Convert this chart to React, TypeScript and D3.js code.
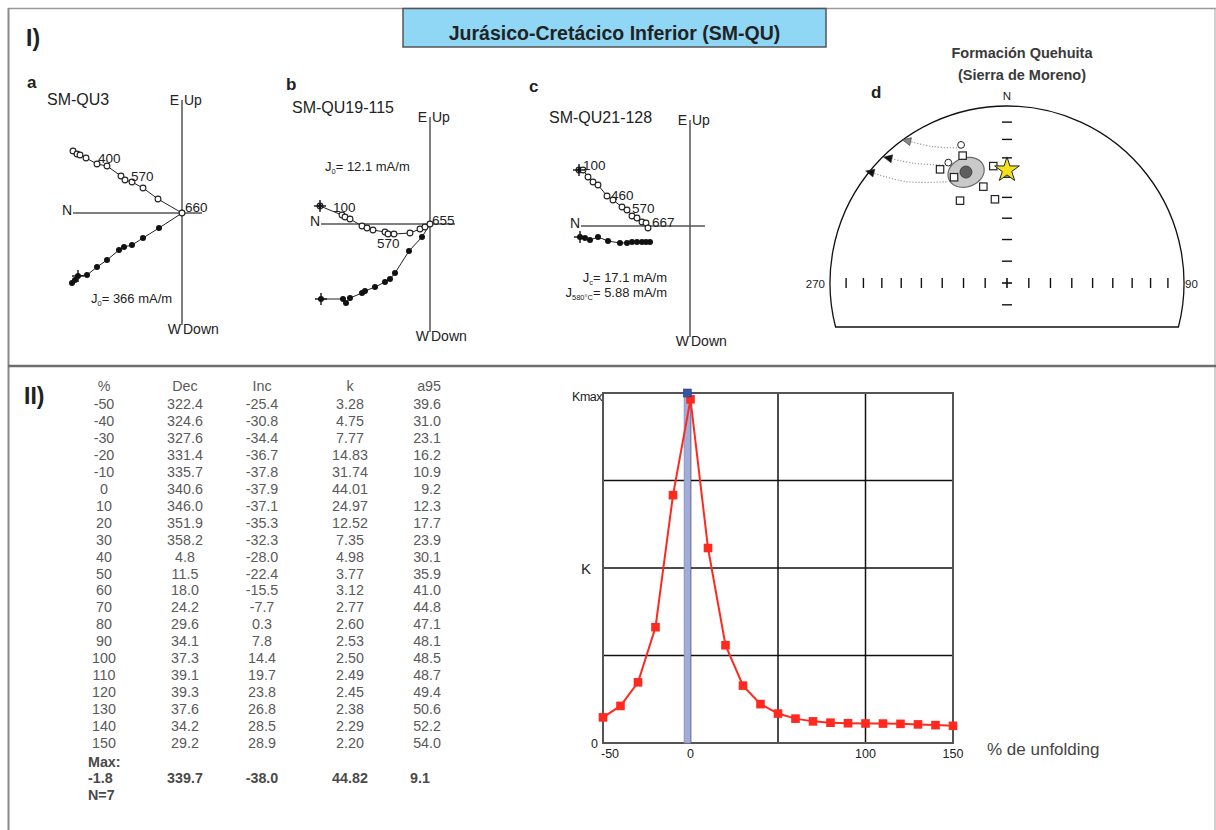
import React from 'react';
import * as d3 from 'd3';

const FONT = '"Liberation Sans", Arial, Helvetica, sans-serif';

// ---------- Fold test table (part II) ----------
const unfoldPct = [-50, -40, -30, -20, -10, 0, 10, 20, 30, 40, 50, 60, 70, 80, 90, 100, 110, 120, 130, 140, 150];
const decValues = [322.4, 324.6, 327.6, 331.4, 335.7, 340.6, 346.0, 351.9, 358.2, 4.8, 11.5, 18.0, 24.2, 29.6, 34.1, 37.3, 39.1, 39.3, 37.6, 34.2, 29.2];
const incValues = [-25.4, -30.8, -34.4, -36.7, -37.8, -37.9, -37.1, -35.3, -32.3, -28.0, -22.4, -15.5, -7.7, 0.3, 7.8, 14.4, 19.7, 23.8, 26.8, 28.5, 28.9];
const kValues = [3.28, 4.75, 7.77, 14.83, 31.74, 44.01, 24.97, 12.52, 7.35, 4.98, 3.77, 3.12, 2.77, 2.60, 2.53, 2.50, 2.49, 2.45, 2.38, 2.29, 2.20];
const a95Values = [39.6, 31.0, 23.1, 16.2, 10.9, 9.2, 12.3, 17.7, 23.9, 30.1, 35.9, 41.0, 44.8, 47.1, 48.1, 48.5, 48.7, 49.4, 50.6, 52.2, 54.0];
const maxPct = -1.8;
const maxDec = 339.7;
const maxInc = -38.0;
const maxK = 44.82;
const maxA95 = 9.1;
const nSites = 7;
const tableHeaders = ['%', 'Dec', 'Inc', 'k', 'a95'];
const xGridValues = [-50, 0, 50, 100, 150];
const xTickLabels = [-50, 0, 100, 150];

// ---------- Zijderveld diagrams (units relative to NRM) [N, E/Up] ----------
const zijA_vert: [number, number][] = [[1.09, 0.62], [1.05, 0.59], [1.02, 0.58], [0.96, 0.55], [0.85, 0.49], [0.75, 0.47], [0.61, 0.37], [0.57, 0.33], [0.50, 0.31], [0.39, 0.25], [0.24, 0.14], [0, 0]];
const zijA_horiz: [number, number][] = [[1.10, -0.70], [1.07, -0.67], [1.04, -0.63], [0.95, -0.62], [0.85, -0.54], [0.75, -0.47], [0.63, -0.37], [0.58, -0.34], [0.50, -0.32], [0.39, -0.25], [0.23, -0.15], [0, 0]];
const zijB_vert: [number, number][] = [[1.10, 0.18], [0.88, 0.09], [0.85, 0.07], [0.80, 0.05], [0.68, -0.02], [0.63, -0.04], [0.57, -0.06], [0.45, -0.08], [0.42, -0.10], [0.36, -0.10], [0.20, -0.09], [0.10, -0.05], [0.05, -0.03], [0, 0]];
const zijB_horiz: [number, number][] = [[1.09, -0.75], [0.87, -0.75], [0.84, -0.79], [0.80, -0.74], [0.68, -0.69], [0.65, -0.67], [0.55, -0.63], [0.45, -0.58], [0.40, -0.55], [0.35, -0.49], [0.21, -0.27], [0.08, -0.13], [0, 0]];
const zijC_vert: [number, number][] = [[1.11, 0.56], [1.07, 0.56], [1.02, 0.49], [0.97, 0.44], [0.92, 0.41], [0.83, 0.30], [0.77, 0.26], [0.68, 0.19], [0.63, 0.16], [0.58, 0.10], [0.53, 0.08], [0.48, 0.04], [0.44, 0.03], [0.42, -0.02]];
const zijC_horiz: [number, number][] = [[1.10, -0.11], [1.05, -0.12], [1.00, -0.14], [0.92, -0.11], [0.82, -0.15], [0.70, -0.17], [0.63, -0.17], [0.58, -0.16], [0.53, -0.16], [0.48, -0.16], [0.44, -0.16], [0.40, -0.16]];

// ---------- Stereonet (dec, inc) ----------
const siteDirs: [number, number][] = [[340.8, -24.8], [329.5, -26.4], [333.4, -33.6], [353.3, -33.9], [346.2, -43.3], [330.3, -45.5], [351.8, -50.5]];
const specimenDirs: [number, number][] = [[341.6, -18.9], [334.0, -25.3]];
const meanDir: [number, number] = [339.7, -33.6];
const meanConeAngle = 7.5;
const starDir: [number, number] = [0, -36.3];
const tiltPaths: [number, number][][] = [
  [[340.8, -20.3], [331.6, -13.5], [324.8, -1.9]],
  [[331.5, -25.2], [322.0, -15.2], [316.4, -2.8]],
  [[329.2, -33.8], [315.3, -20.6], [309.0, -0.5]],
];
const stereoTickIncs = [10, 20, 30, 40, 50, 60, 70, 80];

// ---------------------------------------------------------------
type Pt = [number, number];
const rad = (a: number) => (a * Math.PI) / 180;
const deg = (a: number) => (a * 180) / Math.PI;

interface ZijProps {
  ox: number; oy: number; scale: number;
  vert: Pt[]; horiz: Pt[];
  axN: [number, number]; axV: [number, number];
  crossV: number; crossH: number;
  labels: { s: 'v' | 'h'; i: number; t: string; dx: number; dy: number }[];
}

function Cross({ x, y }: { x: number; y: number }) {
  return (
    <g stroke="#111" strokeWidth={1.4}>
      <line x1={x - 6} y1={y} x2={x + 6} y2={y} />
      <line x1={x} y1={y - 6} x2={x} y2={y + 6} />
      <circle cx={x} cy={y} r={2} fill="#111" stroke="none" />
    </g>
  );
}

function ZijPanel(p: ZijProps) {
  const x = d3.scaleLinear().domain([0, 1]).range([p.ox, p.ox - p.scale]);
  const y = d3.scaleLinear().domain([0, 1]).range([p.oy, p.oy - p.scale]);
  const line = d3.line<Pt>().x((d) => x(d[0])).y((d) => y(d[1]));
  const xl = x(p.axN[0]);
  const xr = x(p.axN[1]);
  const yt = y(p.axV[0]);
  const yb = y(p.axV[1]);
  const ax = x(0);
  const ay = y(0);
  return (
    <g>
      <line x1={xl} y1={ay} x2={xr} y2={ay} stroke="#555" strokeWidth={1.5} />
      <line x1={ax} y1={yt} x2={ax} y2={yb} stroke="#555" strokeWidth={1.5} />
      <text x={xl - 1} y={ay + 2} textAnchor="end" fontSize={14} fill="#222">N</text>
      <text x={ax - 3} y={yt + 5} textAnchor="end" fontSize={14} fill="#222">E</text>
      <text x={ax + 2} y={yt + 5} fontSize={14} fill="#222">Up</text>
      <text x={ax - 1} y={yb + 9} textAnchor="end" fontSize={14} fill="#222">W</text>
      <text x={ax + 1} y={yb + 9} fontSize={14} fill="#222">Down</text>
      <path d={line(p.horiz) || ''} fill="none" stroke="#222" strokeWidth={1} />
      <path d={line(p.vert) || ''} fill="none" stroke="#222" strokeWidth={1} />
      {p.horiz.map((d, i) => (
        <circle key={'h' + i} cx={x(d[0])} cy={y(d[1])} r={3} fill="#111" />
      ))}
      {p.vert.map((d, i) => (
        <circle key={'v' + i} cx={x(d[0])} cy={y(d[1])} r={2.9} fill="#fff" stroke="#222" strokeWidth={1.1} />
      ))}
      {p.crossH >= 0 && <Cross x={x(p.horiz[p.crossH][0])} y={y(p.horiz[p.crossH][1])} />}
      {p.crossV >= 0 && <Cross x={x(p.vert[p.crossV][0])} y={y(p.vert[p.crossV][1])} />}
      {p.labels.map((l, k) => {
        const d = l.s === 'v' ? p.vert[l.i] : p.horiz[l.i];
        return (
          <text key={k} x={x(d[0]) + l.dx} y={y(d[1]) + l.dy} fontSize={13.5} fill="#222">{l.t}</text>
        );
      })}
    </g>
  );
}

// ---------- stereonet helpers ----------
const SN = { cx: 1007, cy: 283, R: 177, cut: 44 };
function eqArea(dec: number, inc: number): Pt {
  const r = SN.R * Math.SQRT2 * Math.sin(rad(90 - Math.abs(inc)) / 2);
  const d = rad(dec);
  return [SN.cx + r * Math.sin(d), SN.cy - r * Math.cos(d)];
}
function dirToVec(dec: number, inc: number): number[] {
  const d = rad(dec), i = rad(inc);
  return [Math.cos(i) * Math.cos(d), Math.cos(i) * Math.sin(d), Math.sin(i)];
}
function vecToDir(v: number[]): Pt {
  return [deg(Math.atan2(v[1], v[0])), deg(Math.asin(Math.max(-1, Math.min(1, v[2]))))];
}
function cross3(a: number[], b: number[]) {
  return [a[1] * b[2] - a[2] * b[1], a[2] * b[0] - a[0] * b[2], a[0] * b[1] - a[1] * b[0]];
}
function norm(a: number[]) {
  const l = Math.hypot(a[0], a[1], a[2]);
  return a.map((c) => c / l);
}
function conePoints(dec: number, inc: number, alpha: number): Pt[] {
  const m = dirToVec(dec, inc);
  const u = norm(cross3(m, [0, 0, 1]));
  const v = cross3(m, u);
  const a = rad(alpha);
  return d3.range(0, 360, 6).map((t) => {
    const tt = rad(t);
    const vec = [0, 1, 2].map((k) => Math.cos(a) * m[k] + Math.sin(a) * (Math.cos(tt) * u[k] + Math.sin(tt) * v[k]));
    const dd = vecToDir(vec);
    return eqArea(dd[0], dd[1]);
  });
}

function Stereonet() {
  const hw = Math.sqrt(SN.R * SN.R - SN.cut * SN.cut);
  const outline = `M ${SN.cx - hw} ${SN.cy + SN.cut} A ${SN.R} ${SN.R} 0 1 1 ${SN.cx + hw} ${SN.cy + SN.cut} Z`;
  const curve = d3.line<Pt>().x((d) => d[0]).y((d) => d[1]).curve(d3.curveCatmullRom);
  const closed = d3.line<Pt>().x((d) => d[0]).y((d) => d[1]).curve(d3.curveLinearClosed);
  const cone = conePoints(meanDir[0], meanDir[1], meanConeAngle);
  const mean = eqArea(meanDir[0], meanDir[1]);
  const star = eqArea(starDir[0], starDir[1]);
  const starPath = d3.symbol(d3.symbolStar, 190)() || '';
  const vTicksTop = stereoTickIncs.map((i) => eqArea(0, i));
  const vTicksBot = stereoTickIncs.map((i) => eqArea(180, i)).filter((p) => p[1] < SN.cy + SN.cut - 10);
  const hTicks = [...stereoTickIncs.map((i) => eqArea(270, i)), ...stereoTickIncs.map((i) => eqArea(90, i))];
  return (
    <g>
      <text x={1022} y={58} textAnchor="middle" fontSize={14.5} fontWeight="bold" fill="#3a3a3a">Formación Quehuita</text>
      <text x={1022} y={80} textAnchor="middle" fontSize={14.5} fontWeight="bold" fill="#3a3a3a">(Sierra de Moreno)</text>
      <text x={871} y={98} fontSize={17} fontWeight="bold" fill="#222">d</text>
      <text x={SN.cx} y={SN.cy - SN.R - 6} textAnchor="middle" fontSize={11.5} fill="#222">N</text>
      <text x={SN.cx - SN.R - 5} y={SN.cy + 5} textAnchor="end" fontSize={11.5} fill="#222">270</text>
      <text x={SN.cx + SN.R + 1} y={SN.cy + 5} fontSize={11.5} fill="#222">90</text>
      <path d={outline} fill="none" stroke="#111" strokeWidth={1.3} />
      {hTicks.map((p, k) => (
        <line key={'ht' + k} x1={p[0]} y1={p[1] - 5} x2={p[0]} y2={p[1] + 5} stroke="#111" strokeWidth={1.4} />
      ))}
      {[...vTicksTop, ...vTicksBot].map((p, k) => (
        <line key={'vt' + k} x1={p[0] - 5} y1={p[1]} x2={p[0] + 5} y2={p[1]} stroke="#111" strokeWidth={1.4} />
      ))}
      <line x1={SN.cx - 5} y1={SN.cy} x2={SN.cx + 5} y2={SN.cy} stroke="#111" strokeWidth={1.6} />
      <line x1={SN.cx} y1={SN.cy - 5} x2={SN.cx} y2={SN.cy + 5} stroke="#111" strokeWidth={1.6} />
      {tiltPaths.map((path, k) => {
        const pts = path.map((d) => eqArea(d[0], d[1]));
        const a = pts[pts.length - 2];
        const b = pts[pts.length - 1];
        const ang = Math.atan2(b[1] - a[1], b[0] - a[0]);
        const ux = Math.cos(ang), uy = Math.sin(ang);
        const tip: Pt = [b[0] + ux * 4.5, b[1] + uy * 4.5];
        const b1: Pt = [b[0] - ux * 4 - uy * 4, b[1] - uy * 4 + ux * 4];
        const b2: Pt = [b[0] - ux * 4 + uy * 4, b[1] - uy * 4 - ux * 4];
        return (
          <g key={'tp' + k}>
            <path d={curve(pts) || ''} fill="none" stroke="#9a9a9a" strokeWidth={1.2} strokeDasharray="1.2 1.8" />
            <path d={`M${tip[0]},${tip[1]}L${b1[0]},${b1[1]}L${b2[0]},${b2[1]}Z`} fill={k === 0 ? '#888' : '#111'} stroke="#333" strokeWidth={0.6} />
          </g>
        );
      })}
      <path d={closed(cone) || ''} fill="#c9c9c9" stroke="#6a6a6a" strokeWidth={1.2} />
      <circle cx={mean[0]} cy={mean[1]} r={6} fill="#5e5e5e" stroke="#333" strokeWidth={0.8} />
      {siteDirs.map((d, k) => {
        const p = eqArea(d[0], d[1]);
        return <rect key={'s' + k} x={p[0] - 3.7} y={p[1] - 3.7} width={7.4} height={7.4} fill="#fff" stroke="#222" strokeWidth={1.2} />;
      })}
      {specimenDirs.map((d, k) => {
        const p = eqArea(d[0], d[1]);
        return <circle key={'c' + k} cx={p[0]} cy={p[1]} r={3.4} fill="#fff" stroke="#222" strokeWidth={1} />;
      })}
      <path d={starPath} transform={`translate(${star[0]},${star[1]})`} fill="#f3e21b" stroke="#222" strokeWidth={1} />
    </g>
  );
}

function FoldChart() {
  const x = d3.scaleLinear().domain([-50, 150]).range([603, 953]);
  const y = d3.scaleLinear().domain([0, maxK]).range([743, 393]);
  const yGrid = [0, 0.25, 0.5, 0.75, 1].map((f) => f * maxK);
  const pts: Pt[] = unfoldPct.map((p, i) => [p, kValues[i]]);
  const line = d3.line<Pt>().x((d) => x(d[0])).y((d) => y(d[1]));
  return (
    <g>
      {xGridValues.map((v) => (
        <line key={'gx' + v} x1={x(v)} y1={y(0)} x2={x(v)} y2={y(maxK)} stroke="#111" strokeWidth={1.5} />
      ))}
      {yGrid.map((v, k) => (
        <line key={'gy' + k} x1={x(-50)} y1={y(v)} x2={x(150)} y2={y(v)} stroke="#111" strokeWidth={1.5} />
      ))}
      <rect x={x(-50)} y={y(maxK)} width={x(150) - x(-50)} height={y(0) - y(maxK)} fill="none" stroke="#555" strokeWidth={2} />
      <rect x={x(maxPct) - 3.2} y={y(maxK)} width={6.4} height={y(0) - y(maxK)} fill="#a3abd9" stroke="#7f8ac6" strokeWidth={0.8} />
      <path d={line(pts) || ''} fill="none" stroke="#ff2a1f" strokeWidth={2} />
      {pts.map((d, k) => (
        <rect key={'p' + k} x={x(d[0]) - 4.3} y={y(d[1]) - 4.3} width={8.6} height={8.6} fill="#ff2a1f" />
      ))}
      <rect x={x(maxPct) - 4} y={y(maxK) - 4} width={8} height={8} fill="#3753a5" stroke="#2a3f86" strokeWidth={0.6} />
      {xTickLabels.map((v) => (
        <text key={'xl' + v} x={v === -50 ? x(v) - 2 : x(v)} y={758} textAnchor={v === -50 ? 'start' : 'middle'} fontSize={12.5} fill="#222">{v}</text>
      ))}
      <text x={602} y={401} textAnchor="end" fontSize={12.5} fill="#222" letterSpacing={-0.5}>Kmax</text>
      <text x={586} y={574} textAnchor="middle" fontSize={15} fill="#222">K</text>
      <text x={598} y={748} textAnchor="end" fontSize={12.5} fill="#222">0</text>
      <text x={987} y={755} fontSize={17} fill="#444">% de unfolding</text>
    </g>
  );
}

function Table() {
  const cols = [
    { x: 104, anchor: 'middle' },
    { x: 185, anchor: 'middle' },
    { x: 262, anchor: 'middle' },
    { x: 350, anchor: 'middle' },
    { x: 441, anchor: 'end' },
  ];
  const rowY = (i: number) => 409 + i * 16.95;
  const fs = 14.3;
  return (
    <g fill="#5a5a5a" fontSize={fs}>
      {tableHeaders.map((h, k) => (
        <text key={'h' + k} x={cols[k].x} y={391} textAnchor={cols[k].anchor as any}>{h}</text>
      ))}
      {unfoldPct.map((p, i) => {
        const vals = [String(p), decValues[i].toFixed(1), incValues[i].toFixed(1), kValues[i].toFixed(2), a95Values[i].toFixed(1)];
        return (
          <g key={'r' + i}>
            {vals.map((v, k) => (
              <text key={k} x={cols[k].x} y={rowY(i)} textAnchor={cols[k].anchor as any}>{v}</text>
            ))}
          </g>
        );
      })}
      <g fontWeight="bold" fill="#4a4a4a">
        <text x={88} y={767}>Max:</text>
        <text x={88} y={783}>{maxPct.toFixed(1)}</text>
        <text x={185} y={783} textAnchor="middle">{maxDec.toFixed(1)}</text>
        <text x={262} y={783} textAnchor="middle">{maxInc.toFixed(1)}</text>
        <text x={350} y={783} textAnchor="middle">{maxK.toFixed(2)}</text>
        <text x={410} y={783}>{maxA95.toFixed(1)}</text>
        <text x={88} y={800}>{'N=' + nSites}</text>
      </g>
    </g>
  );
}

function JText({ x, y, sub, rest, anchor }: { x: number; y: number; sub: string; rest: string; anchor?: string }) {
  return (
    <text x={x} y={y} fontSize={13} fill="#222" textAnchor={(anchor || 'start') as any}>
      J<tspan fontSize={7.5} dy={3}>{sub}</tspan><tspan dy={-3}>{rest}</tspan>
    </text>
  );
}

export default function App() {
  return (
    <svg width={1216} height={830} style={{ position: 'absolute', left: 0, top: 0 }} fontFamily={FONT}>
      <rect x={0} y={0} width={1216} height={830} fill="#fff" />
      {/* frame */}
      <line x1={8} y1={8.5} x2={1216} y2={8.5} stroke="#9a9a9a" strokeWidth={1.6} />
      <line x1={8.5} y1={8} x2={8.5} y2={830} stroke="#8a8a8a" strokeWidth={2} />
      <line x1={1215} y1={8} x2={1215} y2={830} stroke="#b0b0b0" strokeWidth={1.2} />
      <line x1={8} y1={366} x2={1216} y2={366} stroke="#6e6e6e" strokeWidth={2.4} />

      {/* title */}
      <rect x={403} y={8.5} width={423} height={38.5} fill="#8fd7f4" stroke="#555" strokeWidth={1.5} />
      <text x={614.5} y={40} textAnchor="middle" fontSize={19.5} fontWeight="bold" fill="#222">Jurásico-Cretácico Inferior (SM-QU)</text>

      <text x={26} y={46} fontSize={23} fontWeight="bold" fill="#222">I)</text>
      <text x={24} y={404} fontSize={23} fontWeight="bold" fill="#222">II)</text>

      {/* panel a */}
      <text x={27} y={88} fontSize={17} fontWeight="bold" fill="#222">a</text>
      <text x={47} y={105} fontSize={16} fill="#222">SM-QU3</text>
      <ZijPanel ox={182} oy={213} scale={100} vert={zijA_vert} horiz={zijA_horiz}
        axN={[1.09, -0.2]} axV={[1.13, -1.12]} crossV={-1} crossH={2}
        labels={[{ s: 'v', i: 4, t: '400', dx: 1, dy: -1 }, { s: 'v', i: 8, t: '570', dx: -1, dy: -1 }, { s: 'v', i: 11, t: '660', dx: 3, dy: -1 }]} />
      <JText x={91} y={303} sub="0" rest="= 366 mA/m" />

      {/* panel b */}
      <text x={286} y={90} fontSize={17} fontWeight="bold" fill="#222">b</text>
      <text x={292} y={113} fontSize={16} fill="#222">SM-QU19-115</text>
      <ZijPanel ox={430} oy={224} scale={100} vert={zijB_vert} horiz={zijB_horiz}
        axN={[1.09, -0.25]} axV={[1.07, -1.08]} crossV={0} crossH={0}
        labels={[{ s: 'v', i: 0, t: '100', dx: 13, dy: 6 }, { s: 'v', i: 8, t: '570', dx: -11, dy: 14 }, { s: 'v', i: 13, t: '655', dx: 2, dy: 1 }]} />
      <JText x={325} y={171} sub="0" rest="= 12.1 mA/m" />

      {/* panel c */}
      <text x={529} y={92} fontSize={17} fontWeight="bold" fill="#222">c</text>
      <text x={549} y={123} fontSize={16} fill="#222">SM-QU21-128</text>
      <ZijPanel ox={690} oy={226} scale={100} vert={zijC_vert} horiz={zijC_horiz}
        axN={[1.09, -0.15]} axV={[1.06, -1.11]} crossV={0} crossH={0}
        labels={[{ s: 'v', i: 0, t: '100', dx: 4, dy: 0 }, { s: 'v', i: 6, t: '460', dx: -2, dy: 0 }, { s: 'v', i: 9, t: '570', dx: 0, dy: -3 }, { s: 'v', i: 13, t: '667', dx: 4, dy: -1 }]} />
      <JText x={667} y={282} sub="c" rest="= 17.1 mA/m" anchor="end" />
      <JText x={667} y={297} sub="580°C" rest="= 5.88 mA/m" anchor="end" />

      <Stereonet />
      <Table />
      <FoldChart />
    </svg>
  );
}
